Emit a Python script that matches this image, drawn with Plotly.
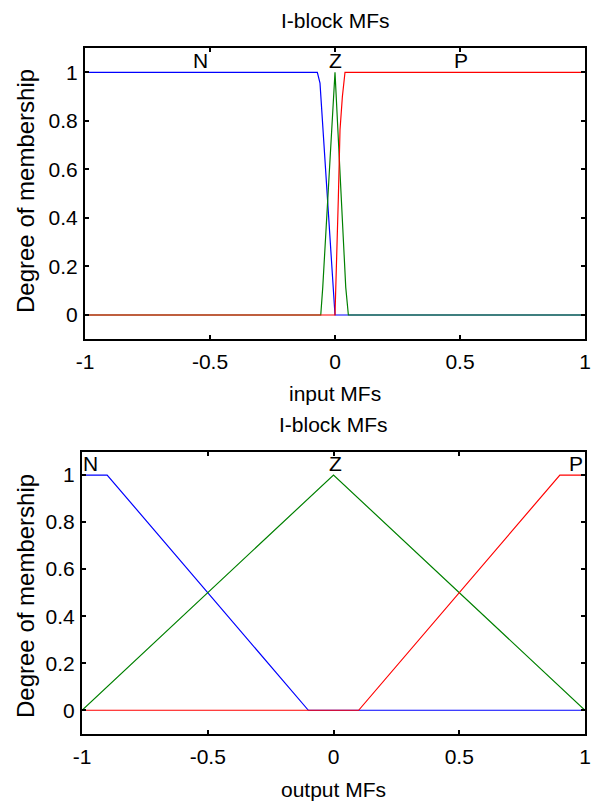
import plotly.graph_objects as go

# ---- data: input MFs (top panel) ----
in_N_x = [-1, -0.0707, -0.060, -0.0546, -0.0493, -0.0306, 0, 1]
in_N_y = [1, 1, 0.955, 0.872, 0.762, 0.459, 0, 0]
in_Z_x = [-1, -0.057, -0.049, 0, 0.043, 0.0535, 1]
in_Z_y = [0, 0, 0.114, 1, 0.114, 0, 0]
in_P_x = [-1, 0, 0.0135, 0.020, 0.0295, 0.036, 0.040, 1]
in_P_y = [0, 0, 0.486, 0.762, 0.899, 0.982, 1, 1]

# ---- data: output MFs (bottom panel) ----
out_N_x = [-1, -0.9, -0.1, 1]
out_N_y = [1, 1, 0, 0]
out_Z_x = [-1, 0, 1]
out_Z_y = [0, 1, 0]
out_P_x = [-1, 0.1, 0.9, 1]
out_P_y = [0, 0, 1, 1]

mf_names = ["N", "Z", "P"]
in_label_x = [-0.54, 0.0, 0.505]
out_label_x = [-0.968, 0.008, 0.963]
label_y = 1.05

x_ticks = [-1, -0.5, 0, 0.5, 1]
x_ticktext = ["-1", "-0.5", "0", "0.5", "1"]
y_ticks = [0, 0.2, 0.4, 0.6, 0.8, 1]
y_ticktext = ["0", "0.2", "0.4", "0.6", "0.8", "1"]

titles = ["I-block MFs", "I-block MFs"]
x_titles = ["input MFs", "output MFs"]
y_title = "Degree of membership"

colors = ["#0000FF", "#008000", "#FF0000"]
FONT = "Liberation Sans, Arial, sans-serif"
W, H = 592, 801

fig = go.Figure()

def add_panel(xs, ys, xa, ya):
    for (x, y), c in zip(zip(xs, ys), colors):
        fig.add_trace(go.Scatter(x=x, y=y, mode="lines", line=dict(color=c, width=1.2),
                                 xaxis=xa, yaxis=ya, showlegend=False, hoverinfo="skip"))

add_panel([in_N_x, in_Z_x, in_P_x], [in_N_y, in_Z_y, in_P_y], "x", "y")
add_panel([out_N_x, out_Z_x, out_P_x], [out_N_y, out_Z_y, out_P_y], "x2", "y2")

def px_x(p):
    return p / W

def px_y(p):
    return 1 - p / H

axis_common = dict(showline=True, linecolor="black", linewidth=2, mirror="ticks",
                   ticks="inside", ticklen=4, tickwidth=1.5, tickcolor="black",
                   showgrid=False, zeroline=False, automargin=False,
                   tickfont=dict(family=FONT, size=21, color="black"))

top_dom_x = [px_x(85), px_x(585)]
top_dom_y = [px_y(339.3), px_y(48)]
bot_dom_x = [px_x(82), px_x(585)]
bot_dom_y = [px_y(733.8), px_y(451.5)]

fig.update_layout(
    width=W, height=H, margin=dict(l=0, r=0, t=0, b=0, autoexpand=False),
    paper_bgcolor="white", plot_bgcolor="white",
    xaxis=dict(domain=top_dom_x, anchor="y", range=[-1, 1], tickvals=x_ticks, ticktext=x_ticktext,
               ticklabelstandoff=2, **axis_common),
    yaxis=dict(domain=top_dom_y, anchor="x", range=[-0.1, 1.1], tickvals=y_ticks, ticktext=y_ticktext,
               ticklabelstandoff=1, **axis_common),
    xaxis2=dict(domain=bot_dom_x, anchor="y2", range=[-1, 1], tickvals=x_ticks, ticktext=x_ticktext,
                ticklabelstandoff=3, **axis_common),
    yaxis2=dict(domain=bot_dom_y, anchor="x2", range=[-0.1, 1.1], tickvals=y_ticks, ticktext=y_ticktext,
                ticklabelstandoff=1, **axis_common),
)

ann = []
txtfont = dict(family=FONT, size=21, color="black")
# panel titles
ann.append(dict(text=titles[0], x=(top_dom_x[0] + top_dom_x[1]) / 2, y=px_y(21), xref="paper", yref="paper",
                showarrow=False, font=txtfont, xanchor="center", yanchor="middle"))
ann.append(dict(text=titles[1], x=(bot_dom_x[0] + bot_dom_x[1]) / 2, y=px_y(425), xref="paper", yref="paper",
                showarrow=False, font=txtfont, xanchor="center", yanchor="middle"))
# x titles
ann.append(dict(text=x_titles[0], x=(top_dom_x[0] + top_dom_x[1]) / 2, y=px_y(393), xref="paper", yref="paper",
                showarrow=False, font=txtfont, xanchor="center", yanchor="middle"))
ann.append(dict(text=x_titles[1], x=(bot_dom_x[0] + bot_dom_x[1]) / 2, y=px_y(789), xref="paper", yref="paper",
                showarrow=False, font=txtfont, xanchor="center", yanchor="middle"))
# y titles
ann.append(dict(text=y_title, x=px_x(25), y=px_y(191), xref="paper", yref="paper", textangle=-90,
                showarrow=False, font=dict(family=FONT, size=24, color="black"),
                xanchor="center", yanchor="middle"))
ann.append(dict(text=y_title, x=px_x(25), y=px_y(596), xref="paper", yref="paper", textangle=-90,
                showarrow=False, font=dict(family=FONT, size=24, color="black"),
                xanchor="center", yanchor="middle"))
# MF labels
for name, lx in zip(mf_names, in_label_x):
    ann.append(dict(text=name, x=lx, y=label_y, xref="x", yref="y", showarrow=False,
                    font=txtfont, xanchor="center", yanchor="middle"))
for name, lx in zip(mf_names, out_label_x):
    ann.append(dict(text=name, x=lx, y=label_y, xref="x2", yref="y2", showarrow=False,
                    font=txtfont, xanchor="center", yanchor="middle"))

fig.update_layout(annotations=ann)
fig.write_html("out.html")
